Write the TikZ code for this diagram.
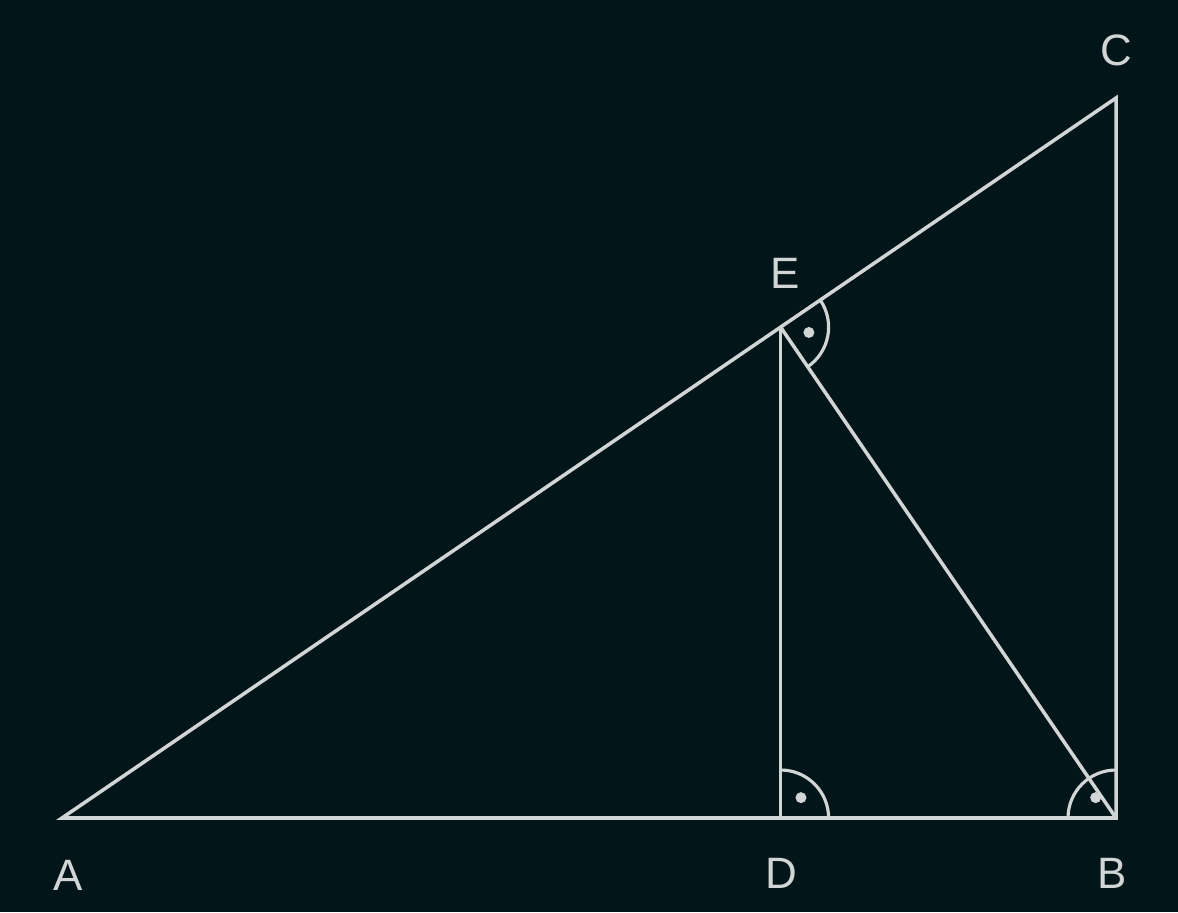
\documentclass[tikz,border=0pt]{standalone}
\usepackage{fontspec}
\setmainfont{Liberation Sans}
\usetikzlibrary{calc,angles}
\definecolor{bgdark}{HTML}{021519}
\definecolor{chalk}{HTML}{D2D5D6}

\begin{document}
\begin{tikzpicture}[
    edge/.style={draw=chalk, line width=2pt, line join=miter},
    rightmark/.style={draw=chalk, line width=1.8pt, angle radius=0.96cm,
      pic text={}, angle eccentricity=0.6,
      pic text options={circle, fill=chalk, inner sep=0pt, minimum size=0.22cm}},
    ptlabel/.style={text=chalk, font=\fontsize{25}{29}\selectfont}
  ]
  % Background and page size
  \fill[bgdark] (0,0) rectangle (23.56,18.24);
  \useasboundingbox (0,0) rectangle (23.56,18.24);
  % Vertices
  \coordinate (A) at (1.24,1.88);
  \coordinate (B) at (22.32,1.88);
  \coordinate (C) at (22.32,16.28);
  \coordinate (E) at ($(A)!(B)!(C)$); % foot from B onto AC
  \coordinate (D) at ($(A)!(E)!(B)$); % foot from E onto AB
  % Triangle and the two perpendiculars
  \draw[edge] (A) -- (B) -- (C) -- cycle;
  \draw[edge] (E) -- (D);
  \draw[edge] (E) -- (B);
  % Right angle marks
  \pic[rightmark] {angle = B--E--C};
  \pic[rightmark] {angle = B--D--E};
  \pic[rightmark] {angle = C--B--A};
  % Labels
  \node[ptlabel] (labA) at (1.36,0.74) {A};
  \node[ptlabel] (labB) at (22.24,0.78) {B};
  \node[ptlabel] (labC) at (22.32,17.24) {C};
  \node[ptlabel] (labD) at (15.62,0.78) {D};
  \node[ptlabel] (labE) at (15.70,12.78) {E};
\end{tikzpicture}
\end{document}
